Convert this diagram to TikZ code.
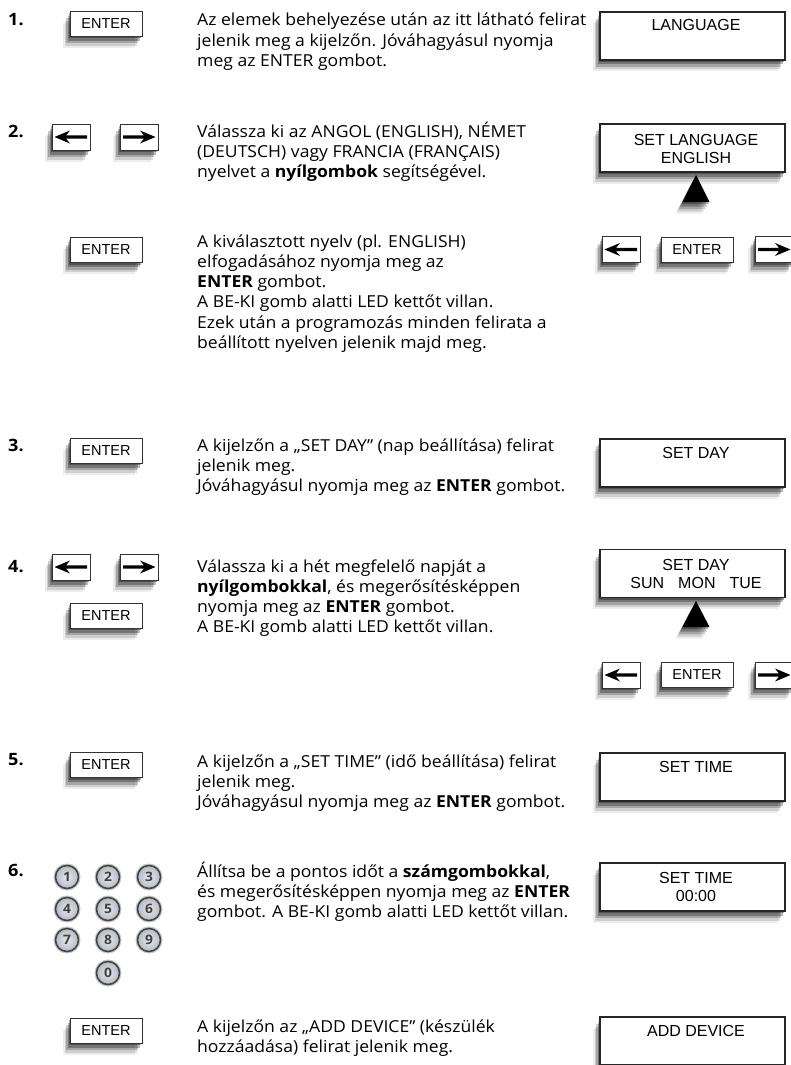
\documentclass[tikz,border=0pt]{standalone}
\usepackage{fontspec}
\setmainfont{Open Sans}[FakeStretch=1.065]
\newfontfamily\btnfont{Liberation Sans}
\usetikzlibrary{shadows}
\definecolor{keyfill}{HTML}{C9CED8}
\definecolor{keyedge}{HTML}{454545}
\tikzset{
  soft/.style={
    general shadow={shadow xshift=-1pt, shadow yshift=-2pt, fill=black, opacity=.32},
    general shadow={shadow xshift=-2.5pt, shadow yshift=-4.5pt, fill=black, opacity=.27},
    general shadow={shadow xshift=-4pt, shadow yshift=-7pt, fill=black, opacity=.2},
    general shadow={shadow xshift=-5.5pt, shadow yshift=-9.5pt, fill=black, opacity=.13},
    general shadow={shadow xshift=-7pt, shadow yshift=-11.5pt, fill=black, opacity=.07}},
  btn/.style={draw=black!80, line width=1pt, fill=white, minimum width=72pt,
    minimum height=25pt, inner sep=0pt, soft,
    font=\btnfont\fontsize{14.5}{16}\selectfont},
  abtn/.style={btn, minimum width=38pt, minimum height=26pt},
  disp/.style={draw=black!85, line width=1.1pt, fill=white, minimum width=185pt,
    minimum height=48pt, inner sep=0pt, soft},
  dtxt/.style={anchor=base, inner sep=0pt, font=\btnfont\fontsize{16}{18}\selectfont},
  num/.style={anchor=base west, inner sep=0pt, font=\bfseries\fontsize{17}{20}\selectfont},
  txt/.style={anchor=base west, inner sep=0pt, font=\fontsize{16.5}{20.3}\selectfont},
  key/.style={circle, draw=keyedge, line width=1.6pt, inner color=keyfill!45!white, outer color=keyfill!90!black,
    minimum size=23pt, inner sep=0pt, text=black!75,
    preaction={draw=black!22, line width=4pt},
    font=\bfseries\fontsize{13}{14}\selectfont},
}
\newcommand\larr[1]{\fill[black] ([xshift=-16.5pt]#1.center) -- ++(15.5pt,6.5pt) -- ++(-4pt,-4.9pt)
  -- ++(21pt,0) -- ++(0,-3.2pt) -- ++(-21pt,0) -- ++(4pt,-4.9pt) -- cycle;}
\newcommand\rarr[1]{\fill[black] ([xshift=16.5pt]#1.center) -- ++(-15.5pt,6.5pt) -- ++(4pt,-4.9pt)
  -- ++(-21pt,0) -- ++(0,-3.2pt) -- ++(21pt,0) -- ++(-4pt,-4.9pt) -- cycle;}
\newcommand\txtbox[1]{\parbox[t]{440pt}{\raggedright #1}}
\begin{document}
\begin{tikzpicture}[x=1pt,y=-1pt]
\useasboundingbox[fill=white] (0,0) rectangle (790,1065);
% step numbers
\node[num] (n1) at (8,26) {1.};
\node[num] (n2) at (8,137) {2.};
\node[num] (n3) at (8,451) {3.};
\node[num] (n4) at (8,572) {4.};
\node[num] (n5) at (8,765) {5.};
\node[num] (n6) at (8,876) {6.};
% left buttons
\node[btn] (e1) at (106,24) {ENTER};
\node[abtn] (l2) at (71,137) {};
\node[abtn] (r2) at (139,137) {};
\larr{l2} \rarr{r2}
\node[btn] (e2) at (106,250) {ENTER};
\node[btn] (e3) at (106,450.5) {ENTER};
\node[abtn] (l4) at (71,567) {};
\node[abtn] (r4) at (139,567) {};
\larr{l4} \rarr{r4}
\node[btn] (e4) at (106,615.5) {ENTER};
\node[btn] (e5) at (106,765) {ENTER};
\node[btn] (e7) at (106,1030.5) {ENTER};
% keypad
\node[key] (k1) at (67,877) {1};
\node[key] (k2) at (108,877) {2};
\node[key] (k3) at (149,877) {3};
\node[key] (k4) at (67,909) {4};
\node[key] (k5) at (108,909) {5};
\node[key] (k6) at (149,909) {6};
\node[key] (k7) at (67,940) {7};
\node[key] (k8) at (108,940) {8};
\node[key] (k9) at (149,940) {9};
\node[key] (k0) at (108,973) {0};
% texts
\node[txt] (t1) at (197,26) {\txtbox{Az elemek behelyezése után az itt látható felirat\\
jelenik meg a kijelzőn. Jóváhagyásul nyomja\\
meg az ENTER gombot.}};
\node[txt] (t2) at (197,137) {\txtbox{Válassza ki az ANGOL (ENGLISH), NÉMET\\
(DEUTSCH) vagy FRANCIA (FRANÇAIS)\\
nyelvet a \textbf{nyílgombok} segítségével.}};
\node[txt] (t2b) at (197,247) {\txtbox{A kiválasztott nyelv (pl. ENGLISH)\\
elfogadásához nyomja meg az\\
\textbf{ENTER} gombot.\\
A BE-KI gomb alatti LED kettőt villan.\\
Ezek után a programozás minden felirata a\\
beállított nyelven jelenik majd meg.}};
\node[txt] (t3) at (197,451) {\txtbox{A kijelzőn a „SET DAY” (nap beállítása) felirat\\
jelenik meg.\\
Jóváhagyásul nyomja meg az \textbf{ENTER} gombot.}};
\node[txt] (t4) at (197,572) {\txtbox{Válassza ki a hét megfelelő napját a\\
\textbf{nyílgombokkal}, és megerősítésképpen\\
nyomja meg az \textbf{ENTER} gombot.\\
A BE-KI gomb alatti LED kettőt villan.}};
\node[txt] (t5) at (197,767) {\txtbox{A kijelzőn a „SET TIME” (idő beállítása) felirat\\
jelenik meg.\\
Jóváhagyásul nyomja meg az \textbf{ENTER} gombot.}};
\node[txt] (t6) at (197,877) {\txtbox{Állítsa be a pontos időt a \textbf{számgombokkal},\\
és megerősítésképpen nyomja meg az \textbf{ENTER}\\
gombot. A BE-KI gomb alatti LED kettőt villan.}};
\node[txt] (t7) at (197,1032) {\txtbox{A kijelzőn az „ADD DEVICE” (készülék\\
hozzáadása) felirat jelenik meg.}};
% displays
\node[disp] (d1) at (692.5,36) {};
\node[dtxt] (d1t) at (696,31) {LANGUAGE};
\node[disp] (d2) at (692.5,148) {};
\node[dtxt] (d2t) at (696,145) {SET LANGUAGE};
\node[dtxt] (d2u) at (696,163) {ENGLISH};
\fill[black, soft] (696,175) -- (709.5,202) -- (682.5,202) -- cycle;
\node[abtn] (l2r) at (621,249.5) {};
\node[btn] (e2r) at (697,249.5) {ENTER};
\node[abtn] (r2r) at (774,249.5) {};
\larr{l2r} \rarr{r2r}
\node[disp] (d3) at (692.5,463) {};
\node[dtxt] (d3t) at (696,458) {SET DAY};
\node[disp] (d4) at (692.5,573.5) {};
\node[dtxt] (d4t) at (696,570) {SET DAY};
\node[dtxt] (d4u) at (696,588) {SUN\hspace{14pt}MON\hspace{14pt}TUE};
\fill[black, soft] (696,601) -- (709.5,627) -- (682.5,627) -- cycle;
\node[abtn] (l4r) at (621,675) {};
\node[btn] (e4r) at (697,675) {ENTER};
\node[abtn] (r4r) at (774,675) {};
\larr{l4r} \rarr{r4r}
\node[disp] (d5) at (692.5,777) {};
\node[dtxt] (d5t) at (696,772) {SET TIME};
\node[disp] (d6) at (692.5,887) {};
\node[dtxt] (d6t) at (696,883) {SET TIME};
\node[dtxt] (d6u) at (696,901) {00:00};
\node[disp] (d7) at (692.5,1041) {};
\node[dtxt] (d7t) at (696,1036) {ADD DEVICE};
\end{tikzpicture}
\end{document}
